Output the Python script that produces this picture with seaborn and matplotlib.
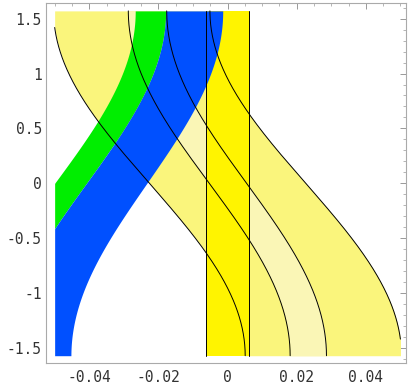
import numpy as np
import pandas as pd
import matplotlib
matplotlib.use("Agg")
import matplotlib.pyplot as plt
import seaborn as sns
from matplotlib.ticker import MultipleLocator, FixedLocator, FixedFormatter

# falling curves (x = mid - amp*sin(y)), x read where each one meets y=+pi/2 and y=-pi/2
fall_top = [-0.0503, -0.0287, -0.0176, -0.0051]
fall_bottom = [0.0051, 0.0181, 0.0286, 0.0503]
# rising curves: green left edge, green/blue edge, blue right edge
rise_top = [-0.0267, -0.0179, -0.0014]
rise_bottom = [-0.0733, -0.0637, -0.0453]
# the straight vertical band
band_x = [-0.0063, 0.0063]
x_range = [-0.05, 0.05]

x_ticks = [-0.04, -0.02, 0, 0.02, 0.04]
x_labels = ["-0.04", "-0.02", "0", "0.02", "0.04"]
y_ticks = [-1.5, -1, -0.5, 0, 0.5, 1, 1.5]
y_labels = ["-1.5", "-1", "-0.5", "0", "0.5", "1", "1.5"]

light = "#FAF57C"
pale = "#FAF6B6"
bright = "#FFF400"
green = "#00EE00"
blue = "#0050FF"

y = np.linspace(-np.pi / 2, np.pi / 2, 500)

def falling(top, bottom):
    mid = (top + bottom) / 2
    amp = (bottom - top) / 2
    return mid - amp * np.sin(y)

def rising(top, bottom):
    mid = (top + bottom) / 2
    amp = (top - bottom) / 2
    return mid + amp * np.sin(y)

def clip(x):
    return np.clip(x, x_range[0], x_range[1])

falls = [falling(t, b) for t, b in zip(fall_top, fall_bottom)]
rises = [rising(t, b) for t, b in zip(rise_top, rise_bottom)]

sns.set_theme(style="white")
plt.rcParams['font.family'] = ['DejaVu Sans Mono', 'DejaVu Sans']

fig = plt.figure(figsize=(4.09, 3.89), dpi=100)
ax = fig.add_axes([46 / 409, (389 - 363.3) / 389, 360 / 409, 360 / 389])

# bands, back to front
ax.fill_betweenx(y, clip(falls[0]), clip(falls[3]), color=light, lw=0)
ax.fill_betweenx(y, clip(falls[1]), clip(falls[2]), color=pale, lw=0)
ax.fill_betweenx(y, band_x[0], band_x[1], color=bright, lw=0)
ax.fill_betweenx(y, clip(rises[0]), clip(rises[1]), color=green, lw=0)
ax.fill_betweenx(y, clip(rises[1]), clip(rises[2]), color=blue, lw=0)

# black outlines of the yellow bands
rows = []
for i, fx in enumerate(falls):
    keep = (fx >= x_range[0]) & (fx <= x_range[1])
    rows.append(pd.DataFrame({'x': fx[keep], 'y': y[keep], 'curve': f'f{i}'}))
for i, bx in enumerate(band_x):
    rows.append(pd.DataFrame({'x': [bx, bx], 'y': [y[0], y[-1]], 'curve': f'v{i}'}))
lines = pd.concat(rows, ignore_index=True)
sns.lineplot(data=lines, x='x', y='y', units='curve', estimator=None, sort=False,
             orient='y', color='black', lw=0.7, ax=ax, legend=False)

ax.set_xlim(-0.0525, 0.0516)
ax.set_ylim(-1.64, 1.64)
ax.set_xlabel('')
ax.set_ylabel('')

ax.xaxis.set_major_locator(FixedLocator(x_ticks))
ax.xaxis.set_major_formatter(FixedFormatter(x_labels))
ax.yaxis.set_major_locator(FixedLocator(y_ticks))
ax.yaxis.set_major_formatter(FixedFormatter(y_labels))
ax.xaxis.set_minor_locator(MultipleLocator(0.005))
ax.yaxis.set_minor_locator(MultipleLocator(0.1))
ax.tick_params(which='both', direction='in', top=True, right=True, color='#999999',
               labelsize=10.5, labelcolor='#333333')
ax.tick_params(which='major', length=4, width=0.7)
ax.tick_params(which='minor', length=2, width=0.5)
ax.tick_params(axis='x', pad=5)
ax.tick_params(axis='y', pad=3)
for s in ax.spines.values():
    s.set_color('#aaaaaa')
    s.set_linewidth(0.8)
ax.set_facecolor('white')

fig.savefig('out.png', dpi=100)
